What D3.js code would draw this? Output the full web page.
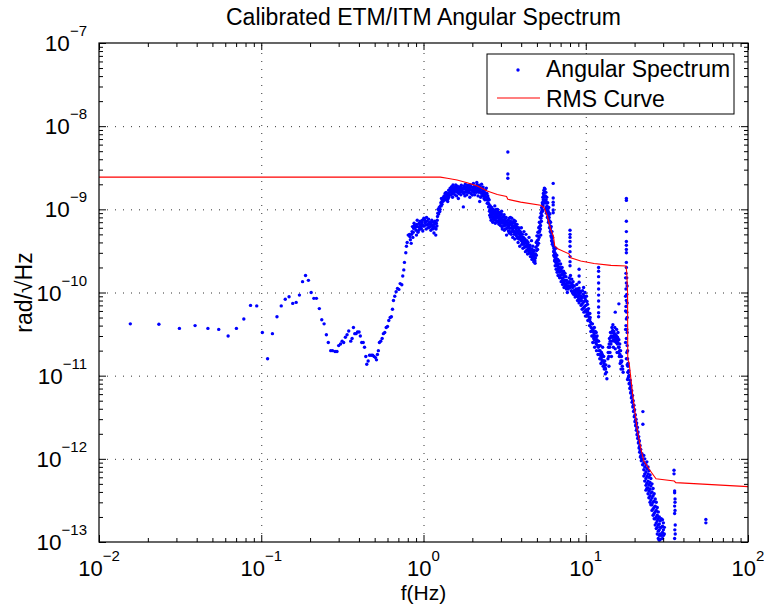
<!DOCTYPE html>
<html>
<head>
<meta charset="utf-8">
<script src="https://cdn.jsdelivr.net/npm/d3@7"></script>
<style>
  body { margin: 0; background: #fff; }
  svg text { font-family: "Liberation Sans", Arial, Helvetica, sans-serif; fill: #000; }
</style>
</head>
<body>
<svg id="chart"></svg>
<script>
// ---- data ----
const xDecades = [1e-2, 1e-1, 1, 10, 100];
const yDecades = [1e-13, 1e-12, 1e-11, 1e-10, 1e-9, 1e-8, 1e-7];

// RMS curve [Hz, rad/rtHz]
const rmsCurve = [
  [0.01, 2.44e-9], [1.27, 2.44e-9], [1.40, 2.36e-9], [1.61, 2.25e-9], [1.86, 2.09e-9],
  [2.15, 1.91e-9], [2.47, 1.66e-9], [2.85, 1.51e-9], [3.25, 1.43e-9], [3.31, 1.32e-9],
  [3.97, 1.22e-9], [5.27, 1.12e-9], [5.53, 1.05e-9], [5.80, 8.3e-10], [6.08, 5.75e-10],
  [6.32, 4.77e-10], [6.44, 3.62e-10], [6.72, 3.35e-10], [7.88, 2.92e-10], [8.08, 2.61e-10],
  [9.31, 2.39e-10], [11.25, 2.23e-10], [14.3, 2.12e-10], [17.7, 2.08e-10], [17.9, 1.73e-10],
  [18.1, 1.0e-10], [18.15, 1.57e-11], [18.5, 1.43e-11], [19.4, 6.25e-12], [20.8, 2.2e-12],
  [21.9, 1.3e-12], [22.8, 9.4e-13], [24.6, 7.5e-13], [27.1, 5.75e-13], [35.1, 5.41e-13],
  [35.9, 5.18e-13], [100, 4.63e-13]
];

// angular spectrum, low frequencies (sparse points)
const specLow = [
  [0.0156,4.2e-11],[0.0234,4.15e-11],[0.0313,3.7e-11],[0.0391,4.0e-11],[0.0469,3.7e-11],
  [0.0547,3.6e-11],[0.0625,3.0e-11],[0.0703,3.7e-11],[0.0781,4.8e-11],[0.0859,7.0e-11],
  [0.0938,6.9e-11],[0.1016,3.3e-11],[0.1094,1.6e-11],[0.1172,3.2e-11],[0.125,5.1e-11],
  [0.1328,6.9e-11],[0.1406,8.3e-11],[0.1484,8.9e-11],[0.1563,7.4e-11],[0.1641,7.6e-11],
  [0.1719,9.3e-11],[0.1797,1.35e-10],[0.1875,1.6e-10],[0.1953,1.4e-10],[0.2031,1.0e-10],
  [0.2109,8.5e-11],[0.2188,8.5e-11],[0.228,6.4e-11],[0.236,4.7e-11],[0.244,4.2e-11],
  [0.252,3.1e-11],[0.259,2.5e-11],[0.268,2.0e-11],[0.275,2.0e-11],[0.285,1.95e-11],
  [0.293,1.95e-11],[0.300,2.3e-11],[0.308,2.4e-11],[0.315,2.6e-11],[0.322,2.5e-11],
  [0.330,2.9e-11],[0.338,3.1e-11],[0.346,3.45e-11],[0.356,2.6e-11],[0.363,2.8e-11],
  [0.370,3.8e-11],[0.377,3.2e-11],[0.384,3.2e-11],[0.392,3.35e-11],[0.401,3.35e-11],
  [0.408,3.0e-11],[0.416,2.5e-11],[0.425,2.5e-11],[0.433,2.2e-11],[0.441,1.7e-11],
  [0.447,1.37e-11],[0.456,1.5e-11],[0.465,1.76e-11],[0.476,1.76e-11],[0.486,1.76e-11],
  [0.496,1.7e-11],[0.506,1.65e-11],[0.513,1.55e-11],[0.520,1.8e-11],[0.527,2.0e-11],
  [0.535,2.5e-11],[0.545,2.6e-11],[0.556,2.8e-11],[0.566,3.2e-11],[0.577,3.3e-11],
  [0.589,3.8e-11],[0.600,3.9e-11],[0.611,4.6e-11],[0.623,5.0e-11],[0.634,5.1e-11],
  [0.644,6.3e-11],[0.653,8.0e-11],[0.665,9.0e-11],[0.678,1.02e-10],[0.691,1.12e-10],
  [0.705,1.09e-10],[0.718,1.28e-10],[0.735,1.24e-10],[0.745,1.58e-10],[0.756,1.87e-10],
  [0.763,2.3e-10],[0.778,3.0e-10],[0.785,3.6e-10],[0.793,4.0e-10],[0.805,4.9e-10]
];

// angular spectrum, 0.8 - 6.3 Hz (dense cloud)
const specMid = [
  [0.823,4.7e-10],[0.84,3.9e-10],[0.82,5.0e-10],[0.855,6.2e-10],[0.85,5.4e-10],[0.86,4.6e-10],
  [0.87,5.9e-10],[0.88,6.4e-10],[0.888,6.0e-10],[0.9,5.6e-10],[0.905,4.9e-10],[0.915,7.4e-10],
  [0.92,6.2e-10],[0.936,5.6e-10],[0.94,6.8e-10],[0.95,6.5e-10],[0.96,6.0e-10],[0.97,5.85e-10],
  [0.975,7.0e-10],[0.98,6.6e-10],[0.99,5.5e-10],[1.005,7.8e-10],[1.01,6.3e-10],[1.02,6.9e-10],
  [1.029,7.1e-10],[1.04,5.8e-10],[1.044,8.0e-10],[1.05,7.2e-10],[1.063,6.6e-10],[1.07,6.0e-10],
  [1.084,6.1e-10],[1.09,7.0e-10],[1.105,6.6e-10],[1.11,5.6e-10],[1.125,7.4e-10],[1.13,6.4e-10],
  [1.148,5.85e-10],[1.15,7.0e-10],[1.16,5.2e-10],[1.17,6.6e-10],[1.18,6.0e-10],[1.19,4.9e-10],
  [1.2,6.8e-10],[1.215,7.4e-10],[1.22,8.2e-10],[1.23,1.0e-9],[1.24,8.8e-10],[1.25,1.05e-9],
  [1.26,9.4e-10],[1.27,1.1e-9],
  [0.83,4.3e-10],[0.845,5.0e-10],[0.865,5.3e-10],[0.875,6.8e-10],[0.895,6.2e-10],[0.91,6.6e-10],
  [0.925,5.3e-10],[0.945,6.0e-10],[0.955,7.2e-10],[0.965,6.4e-10],[0.985,7.4e-10],[0.995,6.3e-10],
  [1.015,7.5e-10],[1.035,6.5e-10],[1.055,6.5e-10],[1.075,7.6e-10],[1.095,6.2e-10],[1.115,6.9e-10],
  [1.135,5.9e-10],[1.155,6.2e-10],[1.175,7.2e-10],[1.195,5.8e-10],[1.21,6.3e-10],[1.225,9.0e-10],
  [1.245,9.8e-10],[1.265,1.0e-9],
  [1.28,1.2e-9],[1.29,1.35e-9],[1.3,1.15e-9],[1.31,1.29e-9],[1.32,1.25e-9],[1.33,1.4e-9],
  [1.34,1.45e-9],[1.35,1.3e-9],[1.36,1.56e-9],[1.37,1.4e-9],[1.38,1.6e-9],[1.39,1.29e-9],
  [1.4,1.5e-9],[1.41,1.24e-9],[1.42,1.35e-9],[1.43,1.7e-9],[1.44,1.49e-9],[1.45,1.6e-9],
  [1.46,1.8e-9],[1.47,1.62e-9],[1.48,1.5e-9],[1.49,1.87e-9],[1.5,1.7e-9],[1.51,1.4e-9],
  [1.52,1.96e-9],[1.53,1.8e-9],[1.54,1.6e-9],[1.55,1.71e-9],[1.56,1.5e-9],[1.57,1.85e-9],
  [1.58,1.96e-9],[1.59,1.65e-9],[1.6,1.45e-9],[1.61,1.78e-9],[1.62,1.9e-9],[1.63,1.7e-9],
  [1.64,1.35e-9],[1.65,1.55e-9],[1.66,1.8e-9],[1.67,1.6e-9],[1.69,1.87e-9],[1.7,1.5e-9],
  [1.71,1.95e-9],[1.72,1.65e-9],[1.73,1.71e-9],[1.75,1.8e-9],[1.76,1.07e-9],[1.77,1.55e-9],
  [1.78,1.9e-9],[1.79,1.78e-9],[1.8,1.45e-9],[1.81,2.0e-9],[1.82,1.62e-9],[1.84,1.7e-9],
  [1.85,1.5e-9],[1.86,1.87e-9],[1.88,1.95e-9],[1.89,1.6e-9],[1.9,1.71e-9],[1.92,1.8e-9],
  [1.93,1.4e-9],[1.95,1.96e-9],[1.96,1.7e-9],[1.98,1.85e-9],[2.0,1.49e-9],[2.02,1.65e-9],
  [2.03,2.05e-9],[2.04,1.87e-9],[2.06,1.75e-9],[2.07,1.5e-9],[2.09,1.71e-9],[2.1,1.9e-9],
  [2.12,1.6e-9],[2.13,2.1e-9],[2.14,1.96e-9],[2.16,1.8e-9],[2.17,1.45e-9],[2.19,1.78e-9],
  [2.2,1.95e-9],[2.21,1.65e-9],[2.22,1.24e-9],[2.24,1.85e-9],[2.25,1.4e-9],[2.27,1.56e-9],
  [2.28,2.0e-9],[2.3,1.6e-9],[2.31,1.78e-9],[2.33,1.85e-9],[2.34,1.5e-9],[2.36,1.35e-9],
  [2.38,1.7e-9],[2.39,1.3e-9],[2.41,1.71e-9],[2.42,1.55e-9],[2.44,1.8e-9],[2.45,1.3e-9],
  [2.47,1.18e-9],[2.49,1.45e-9],[2.5,1.2e-9],[2.52,1.07e-9],[2.54,1.3e-9],[2.55,9.5e-10],
  [2.56,8.5e-10],[2.58,1.1e-9],
  [1.285,1.1e-9],[1.305,1.25e-9],[1.33,1.3e-9],[1.355,1.38e-9],[1.375,1.52e-9],[1.395,1.4e-9],
  [1.415,1.55e-9],[1.435,1.42e-9],[1.455,1.7e-9],[1.475,1.75e-9],[1.495,1.6e-9],[1.515,1.55e-9],
  [1.535,1.65e-9],[1.555,1.85e-9],[1.575,1.7e-9],[1.595,1.8e-9],[1.615,1.6e-9],[1.635,1.8e-9],
  [1.655,1.7e-9],[1.68,1.75e-9],[1.7,1.65e-9],[1.725,1.8e-9],[1.745,1.6e-9],[1.765,1.75e-9],
  [1.79,1.6e-9],[1.815,1.75e-9],[1.835,1.85e-9],[1.86,1.65e-9],[1.885,1.75e-9],[1.91,1.6e-9],
  [1.935,1.85e-9],[1.96,1.55e-9],[1.99,1.7e-9],[2.015,1.8e-9],[2.045,1.6e-9],[2.075,1.85e-9],
  [2.105,1.7e-9],[2.135,1.75e-9],[2.165,1.65e-9],[2.195,1.6e-9],[2.23,1.7e-9],[2.26,1.75e-9],
  [2.29,1.45e-9],[2.32,1.65e-9],[2.35,1.6e-9],[2.37,1.45e-9],[2.4,1.5e-9],[2.43,1.4e-9],
  [2.46,1.55e-9],[2.48,1.3e-9],[2.51,1.35e-9],[2.53,1.15e-9],
  [2.6,9.0e-10],[2.61,7.4e-10],[2.63,1.05e-9],[2.65,8.0e-10],[2.66,9.0e-10],[2.68,1.0e-9],
  [2.7,7.6e-10],[2.71,9.8e-10],[2.73,8.8e-10],[2.75,1.1e-9],[2.77,6.8e-10],[2.78,7.8e-10],
  [2.8,9.2e-10],[2.82,8.1e-10],[2.84,7.2e-10],[2.86,1.0e-9],[2.87,9.4e-10],[2.9,8.4e-10],
  [2.92,6.6e-10],[2.93,7.4e-10],[2.95,9.0e-10],[2.97,7.8e-10],[2.99,8.5e-10],[3.01,6.9e-10],
  [3.03,9.5e-10],[3.04,6.2e-10],[3.07,8.0e-10],[3.1,7.4e-10],[3.12,6.3e-10],[3.14,8.6e-10],
  [3.16,6.8e-10],[3.18,7.4e-10],[3.2,5.8e-10],[3.23,8.0e-10],[3.25,4.9e-10],[3.28,7.0e-10],
  [3.31,6.2e-10],[3.34,5.5e-10],[3.36,6.8e-10],[3.38,7.8e-10],[3.4,5.9e-10],[3.43,8.0e-10],
  [3.45,6.8e-10],
  [2.57,1.0e-9],[2.59,8.0e-10],[2.62,9.5e-10],[2.64,8.6e-10],[2.67,7.0e-10],[2.69,9.2e-10],
  [2.72,8.2e-10],[2.74,9.6e-10],[2.76,7.4e-10],[2.79,8.6e-10],[2.81,1.0e-9],[2.83,7.8e-10],
  [2.85,8.8e-10],[2.88,7.0e-10],[2.89,8.0e-10],[2.91,9.2e-10],[2.94,7.1e-10],[2.96,8.4e-10],
  [2.98,6.4e-10],[3.0,7.6e-10],[3.02,8.8e-10],[3.05,7.2e-10],[3.06,5.8e-10],[3.08,6.8e-10],
  [3.11,8.2e-10],[3.13,7.0e-10],[3.15,5.6e-10],[3.17,6.4e-10],[3.19,7.8e-10],[3.21,6.6e-10],
  [3.24,7.2e-10],[3.26,5.9e-10],[3.29,6.5e-10],[3.32,7.4e-10],[3.35,6.1e-10],[3.37,5.2e-10],
  [3.39,6.5e-10],[3.42,5.4e-10],[3.44,7.2e-10],
  [3.47,5.0e-10],[3.5,7.8e-10],[3.52,6.4e-10],[3.53,5.9e-10],[3.55,4.6e-10],[3.57,7.0e-10],
  [3.6,5.4e-10],[3.61,7.4e-10],[3.63,6.2e-10],[3.65,4.4e-10],[3.68,7.2e-10],[3.7,6.5e-10],
  [3.72,5.8e-10],[3.74,4.8e-10],[3.77,6.6e-10],[3.79,4.5e-10],[3.8,5.2e-10],[3.83,4.0e-10],
  [3.86,6.0e-10],[3.88,5.6e-10],[3.9,4.7e-10],[3.92,3.6e-10],[3.95,5.4e-10],[3.98,4.3e-10],
  [4.01,6.0e-10],[4.04,3.8e-10],[4.07,5.0e-10],[4.1,3.4e-10],[4.13,4.6e-10],[4.16,5.4e-10],
  [4.19,3.9e-10],[4.22,4.4e-10],[4.25,3.1e-10],[4.28,5.0e-10],[4.31,3.6e-10],[4.34,4.2e-10],
  [4.38,2.9e-10],[4.41,4.0e-10],[4.44,3.4e-10],[4.47,4.6e-10],[4.5,3.0e-10],[4.53,3.7e-10],
  [4.56,2.7e-10],[4.6,3.3e-10],[4.63,4.2e-10],[4.66,2.5e-10],[4.69,3.0e-10],[4.72,3.6e-10],
  [4.75,2.8e-10],[4.78,2.35e-10],[4.81,3.2e-10],[4.84,2.6e-10],[4.87,2.25e-10],[4.9,2.9e-10],
  [3.49,6.0e-10],[3.51,5.4e-10],[3.54,6.8e-10],[3.56,5.6e-10],[3.59,6.2e-10],[3.62,5.0e-10],
  [3.64,6.8e-10],[3.67,5.4e-10],[3.69,6.0e-10],[3.71,5.0e-10],[3.73,6.2e-10],[3.76,5.5e-10],
  [3.78,6.0e-10],[3.81,4.6e-10],[3.84,5.4e-10],[3.87,4.4e-10],[3.89,5.0e-10],[3.93,4.6e-10],
  [3.96,4.9e-10],[3.99,5.2e-10],[4.02,4.2e-10],[4.05,4.6e-10],[4.08,4.0e-10],[4.11,4.3e-10],
  [4.14,3.8e-10],[4.17,4.2e-10],[4.2,3.5e-10],[4.23,4.0e-10],[4.26,3.6e-10],[4.29,4.1e-10],
  [4.32,3.2e-10],[4.36,3.8e-10],[4.39,3.3e-10],[4.42,3.7e-10],[4.46,3.1e-10],[4.49,3.5e-10],
  [4.52,3.2e-10],[4.55,3.4e-10],[4.58,2.9e-10],[4.62,3.0e-10],[4.65,2.7e-10],[4.68,3.3e-10],
  [4.71,2.6e-10],[4.74,3.1e-10],[4.77,2.7e-10],[4.8,2.5e-10],[4.83,2.9e-10],[4.86,2.4e-10],
  [4.89,2.6e-10],
  [4.95,4.0e-10],[4.98,3.2e-10],[5.0,4.8e-10],[5.04,3.7e-10],[5.07,5.3e-10],[5.1,4.3e-10],
  [5.13,6.0e-10],[5.16,4.6e-10],[5.18,7.0e-10],[5.2,5.5e-10],[5.23,8.0e-10],[5.26,6.4e-10],
  [5.28,4.9e-10],[5.3,9.0e-10],[5.33,7.2e-10],[5.35,1.05e-9],[5.37,8.4e-10],[5.4,1.2e-9],
  [5.42,9.5e-10],[5.44,1.4e-9],[5.46,1.1e-9],[5.48,1.55e-9],[5.5,1.25e-9],[5.52,1.7e-9],
  [5.54,1.4e-9],[5.56,1.8e-9],[5.58,1.6e-9],[5.6,1.2e-9],[5.62,1.75e-9],[5.64,1.45e-9],
  [5.66,1.0e-9],[5.68,1.6e-9],[5.7,1.3e-9],[5.72,9.0e-10],[5.75,1.4e-9],[5.77,1.1e-9],
  [5.8,8.0e-10],[5.83,1.2e-9],[5.86,9.5e-10],[5.89,7.0e-10],[5.92,1.05e-9],[5.95,8.0e-10],
  [5.98,6.0e-10],[6.01,8.8e-10],[6.04,5.4e-10],[6.07,7.0e-10],[6.1,4.8e-10],[6.13,6.2e-10],
  [6.16,4.2e-10],[6.19,5.4e-10],[6.22,3.8e-10],[6.25,4.6e-10],
  [4.93,3.5e-10],[4.96,2.8e-10],[5.02,4.2e-10],[5.05,3.3e-10],[5.09,4.8e-10],[5.12,3.9e-10],
  [5.15,5.3e-10],[5.19,6.2e-10],[5.22,6.9e-10],[5.25,5.8e-10],[5.29,7.8e-10],[5.32,8.4e-10],
  [5.36,9.5e-10],[5.39,1.0e-9],[5.43,1.15e-9],[5.47,1.3e-9],[5.51,1.45e-9],[5.55,1.6e-9],
  [5.59,1.45e-9],[5.63,1.3e-9],[5.67,1.2e-9],[5.71,1.05e-9],[5.74,1.2e-9],[5.78,9.5e-10],
  [5.82,1.0e-9],[5.85,8.2e-10],[5.88,8.6e-10],[5.91,7.5e-10],[5.94,9.0e-10],[5.97,6.8e-10],
  [6.0,7.2e-10],[6.03,6.3e-10],[6.06,5.9e-10],[6.09,5.5e-10],[6.12,5.2e-10],[6.15,4.6e-10],
  [6.18,4.8e-10],[6.21,4.2e-10],[6.24,4.0e-10]
];

// angular spectrum, 6.3 - 31 Hz (dense cloud)
const specHigh = [
  [6.33,3.6e-10],[6.36,2.8e-10],[6.39,3.2e-10],[6.42,2.4e-10],[6.45,3.0e-10],[6.48,2.1e-10],
  [6.51,2.6e-10],[6.54,3.4e-10],[6.57,1.9e-10],[6.6,2.3e-10],[6.63,2.8e-10],[6.66,1.75e-10],
  [6.69,2.1e-10],[6.72,2.5e-10],[6.75,1.6e-10],[6.8,2.0e-10],[6.85,2.4e-10],[6.9,1.5e-10],
  [6.95,1.8e-10],[7.0,2.2e-10],[7.05,1.35e-10],[7.1,1.65e-10],[7.15,2.0e-10],[7.2,1.25e-10],
  [7.25,1.5e-10],[7.3,1.8e-10],[7.35,1.15e-10],[7.4,1.4e-10],[7.45,1.7e-10],[7.5,1.2e-10],
  [7.55,1.55e-10],[7.6,1.1e-10],[7.65,1.3e-10],[7.7,1.0e-10],[7.75,1.2e-10],
  [6.34,3.1e-10],[6.37,3.4e-10],[6.4,2.7e-10],[6.43,2.9e-10],[6.46,2.5e-10],[6.5,2.9e-10],
  [6.53,2.3e-10],[6.56,2.6e-10],[6.59,2.1e-10],[6.62,2.5e-10],[6.65,2.2e-10],[6.68,2.4e-10],
  [6.71,1.9e-10],[6.74,2.2e-10],[6.78,1.8e-10],[6.82,2.2e-10],[6.87,1.75e-10],[6.92,2.0e-10],
  [6.97,1.6e-10],[7.02,1.9e-10],[7.07,1.5e-10],[7.12,1.8e-10],[7.17,1.4e-10],[7.22,1.7e-10],
  [7.27,1.35e-10],[7.32,1.6e-10],[7.37,1.3e-10],[7.42,1.55e-10],[7.47,1.25e-10],[7.52,1.4e-10],
  [7.57,1.2e-10],[7.62,1.4e-10],[7.67,1.15e-10],[7.72,1.3e-10],[7.8,1.1e-10],[7.85,1.3e-10],
  [7.9,1.5e-10],[7.95,1.2e-10],[8.05,1.6e-10],[8.1,1.3e-10],[8.15,1.05e-10],[8.2,1.45e-10],
  [8.3,1.15e-10],[8.35,1.35e-10],[8.4,9.5e-11],[8.5,1.2e-10],[8.55,1.05e-10],[8.6,8.8e-11],
  [8.7,1.1e-10],[8.75,9.0e-11],[8.8,1.25e-10],[8.9,8.0e-11],[8.95,1.0e-10],[9.05,8.5e-11],
  [9.1,7.5e-11],[9.15,1.05e-10],[9.3,9.0e-11],[9.35,7.0e-11],[9.4,8.0e-11],[9.5,6.3e-11],
  [9.55,1.05e-10],[9.6,7.5e-11],[9.7,1.15e-10],[9.75,5.8e-11],[9.8,9.0e-11],[9.85,6.8e-11],
  [9.9,1.0e-10],[9.95,5.2e-11],[10.0,8.0e-11],[10.05,6.2e-11],[10.1,9.0e-11],[10.2,5.4e-11],
  [10.25,7.2e-11],[10.3,4.6e-11],[10.4,6.4e-11],[10.5,5.0e-11],[10.55,4.0e-11],[10.6,5.6e-11],
  [10.7,4.4e-11],
  [7.92,1.35e-10],[8.0,1.15e-10],[8.08,1.45e-10],[8.12,1.2e-10],[8.25,1.25e-10],[8.28,1.0e-10],
  [8.38,1.2e-10],[8.45,1.05e-10],[8.52,9.5e-11],[8.62,1.0e-10],[8.68,9.5e-11],[8.78,1.05e-10],
  [8.85,9.0e-11],[8.92,1.1e-10],[9.0,9.0e-11],[9.08,9.5e-11],[9.22,8.0e-11],[9.28,1.0e-10],
  [9.38,8.5e-11],[9.45,7.2e-11],[9.52,8.8e-11],[9.62,9.5e-11],[9.68,6.5e-11],[9.78,7.8e-11],
  [9.88,8.5e-11],[9.92,6.0e-11],[10.02,7.0e-11],[10.12,5.8e-11],[10.18,7.8e-11],[10.28,6.0e-11],
  [10.35,5.2e-11],[10.45,5.6e-11],[10.58,4.7e-11],[10.65,5.0e-11],
  [10.8,3.8e-11],[10.9,3.0e-11],[11.0,4.2e-11],[11.05,2.5e-11],[11.1,3.4e-11],[11.2,2.8e-11],
  [11.3,3.8e-11],[11.35,2.2e-11],[11.4,3.0e-11],[11.5,2.5e-11],[11.6,3.3e-11],[11.65,2.0e-11],
  [11.7,2.7e-11],[11.8,2.3e-11],[11.9,1.8e-11],[12.0,2.6e-11],[12.1,2.0e-11],[12.2,1.6e-11],
  [12.3,2.3e-11],[12.4,1.4e-11],[12.5,1.9e-11],[12.6,1.5e-11],[12.7,2.2e-11],[12.8,1.3e-11],
  [12.9,1.7e-11],[13.0,1.2e-11],[13.1,1.5e-11],[13.2,1.05e-11],[13.3,1.35e-11],[13.5,9.2e-12],
  [10.75,3.4e-11],[10.85,4.2e-11],[10.95,3.5e-11],[11.08,3.0e-11],[11.15,3.7e-11],[11.25,3.2e-11],
  [11.32,2.7e-11],[11.45,3.4e-11],[11.55,2.9e-11],[11.62,2.4e-11],[11.75,3.0e-11],[11.85,2.6e-11],
  [11.95,2.2e-11],[12.05,2.3e-11],[12.15,1.8e-11],[12.25,2.0e-11],[12.35,1.75e-11],[12.45,1.6e-11],
  [12.55,1.7e-11],[12.65,1.8e-11],[12.75,1.5e-11],[12.85,1.5e-11],[12.95,1.4e-11],[13.05,1.35e-11],
  [13.15,1.25e-11],[13.25,1.2e-11],[13.4,1.1e-11],
  [13.7,1.6e-11],[13.8,2.2e-11],[13.9,1.3e-11],[14.0,2.8e-11],[14.1,1.9e-11],[14.2,3.3e-11],
  [14.3,2.4e-11],[14.4,1.7e-11],[14.5,3.8e-11],[14.6,2.9e-11],[14.7,4.1e-11],[14.8,2.2e-11],
  [14.9,3.4e-11],[15.0,2.6e-11],[15.1,3.8e-11],[15.2,2.1e-11],[15.3,3.1e-11],[15.4,2.5e-11],
  [15.5,3.6e-11],[15.6,1.9e-11],[15.7,2.9e-11],[15.8,3.3e-11],[15.9,2.2e-11],[16.0,2.7e-11],
  [16.1,1.7e-11],[16.2,2.4e-11],[16.3,1.4e-11],[16.4,2.0e-11],[16.5,1.2e-11],[16.6,1.7e-11],
  [16.8,1.3e-11],[17.0,1.1e-11],
  [13.75,1.9e-11],[13.85,1.7e-11],[13.95,2.4e-11],[14.05,2.2e-11],[14.15,2.6e-11],[14.25,2.9e-11],
  [14.35,3.0e-11],[14.45,2.6e-11],[14.55,3.3e-11],[14.65,3.5e-11],[14.75,3.0e-11],[14.85,2.7e-11],
  [14.95,3.0e-11],[15.05,3.2e-11],[15.15,2.9e-11],[15.25,2.6e-11],[15.35,2.8e-11],[15.45,3.0e-11],
  [15.55,2.7e-11],[15.65,2.4e-11],[15.75,2.5e-11],[15.85,2.7e-11],[15.95,1.9e-11],[16.05,2.2e-11],
  [16.15,2.0e-11],[16.25,1.8e-11],[16.35,1.7e-11],[16.45,1.5e-11],[16.55,1.45e-11],[16.7,1.5e-11],
  [16.9,1.2e-11],
  [18.2,1.3e-11],[18.3,9.5e-12],[18.4,1.15e-11],[18.5,8.0e-12],[18.6,1.0e-11],[18.7,7.0e-12],
  [18.8,8.8e-12],[18.9,6.2e-12],[19.0,7.6e-12],[19.1,5.4e-12],[19.2,6.6e-12],[19.3,4.8e-12],
  [19.4,5.8e-12],[19.5,4.2e-12],[19.6,5.0e-12],[19.7,3.7e-12],[19.8,4.4e-12],[19.9,3.2e-12],
  [20.0,3.9e-12],[20.1,2.8e-12],[20.2,3.4e-12],[20.3,2.5e-12],[20.4,3.0e-12],[20.5,2.2e-12],
  [20.6,2.7e-12],[20.7,1.95e-12],[20.8,2.4e-12],[20.9,1.75e-12],[21.0,2.1e-12],[21.1,1.55e-12],
  [21.2,1.85e-12],[21.3,1.35e-12],[21.4,1.65e-12],[21.5,1.2e-12],[21.6,1.45e-12],[21.7,1.05e-12],
  [21.8,1.3e-12],[22.0,9.5e-13],[22.2,1.15e-12],
  [18.25,1.1e-11],[18.45,1.0e-11],[18.65,8.2e-12],[18.85,7.2e-12],[19.05,6.4e-12],[19.25,5.6e-12],
  [19.45,5.0e-12],[19.65,4.4e-12],[19.85,3.8e-12],[20.05,3.3e-12],[20.25,2.9e-12],[20.45,2.6e-12],
  [20.65,2.3e-12],[20.85,2.0e-12],[21.05,1.8e-12],[21.25,1.6e-12],[21.45,1.4e-12],[21.65,1.25e-12],
  [21.9,1.1e-12],[22.1,1.0e-12],[22.4,8.5e-13],[22.6,1.0e-12],
  [22.8,1.1e-12],[22.8,9.0e-13],[22.8,7.4e-13],[22.8,6.2e-13],
  [23.1,1.0e-12],[23.1,8.0e-13],[23.1,6.6e-13],[23.1,5.4e-13],
  [23.5,8.5e-13],[23.5,7.0e-13],[23.5,5.8e-13],[23.5,4.8e-13],[23.5,4.2e-13],
  [23.8,9.2e-13],[23.8,7.6e-13],[23.8,6.2e-13],[23.8,5.1e-13],[23.8,4.4e-13],
  [24.2,8.0e-13],[24.2,6.6e-13],[24.2,5.4e-13],[24.2,4.5e-13],[24.2,3.8e-13],
  [24.5,7.2e-13],[24.5,6.0e-13],[24.5,4.9e-13],[24.5,4.1e-13],[24.5,3.4e-13],
  [24.9,6.4e-13],[24.9,5.2e-13],[24.9,4.3e-13],[24.9,3.6e-13],[24.9,3.0e-13],
  [25.2,5.8e-13],[25.2,4.7e-13],[25.2,3.9e-13],[25.2,3.2e-13],[25.2,2.8e-13],
  [25.6,5.0e-13],[25.6,4.0e-13],[25.6,3.4e-13],[25.6,2.8e-13],[25.6,2.4e-13],
  [26.0,4.4e-13],[26.0,3.6e-13],[26.0,3.0e-13],[26.0,2.5e-13],[26.0,2.1e-13],
  [26.4,3.8e-13],[26.4,3.1e-13],[26.4,2.6e-13],[26.4,2.2e-13],[26.4,1.9e-13],
  [26.8,3.3e-13],[26.8,2.7e-13],[26.8,2.3e-13],[26.8,1.9e-13],[26.8,1.6e-13],
  [27.2,3.0e-13],[27.2,2.4e-13],[27.2,2.0e-13],[27.2,1.7e-13],[27.2,1.45e-13],
  [27.6,2.6e-13],[27.6,2.1e-13],[27.6,1.8e-13],[27.6,1.5e-13],[27.6,1.25e-13],
  [28.0,2.3e-13],[28.0,1.9e-13],[28.0,1.6e-13],[28.0,1.35e-13],[28.0,1.1e-13],
  [28.4,2.0e-13],[28.4,1.65e-13],[28.4,1.4e-13],[28.4,1.2e-13],[28.4,1.05e-13],
  [28.8,1.8e-13],[28.8,1.5e-13],[28.8,1.25e-13],[28.8,1.08e-13],
  [29.2,1.9e-13],[29.2,1.5e-13],[29.2,1.2e-13],
  [29.7,1.85e-13],[29.7,1.55e-13],[29.7,1.3e-13],[29.7,1.1e-13],
  [30.1,1.7e-13],[30.1,1.4e-13],[30.1,1.2e-13],[30.5,1.5e-13],[30.5,1.25e-13]
];

// narrow lines and outliers standing out of the cloud
const specLines = [
  [3.31,4.9e-9],[3.31,2.66e-9],[3.31,2.36e-9],
  [6.3,2.05e-9],[6.3,1.37e-9],[6.3,1.22e-9],[6.3,1.13e-9],[6.3,9.8e-10],[6.3,9.1e-10],
  [8.0,5.6e-10],[8.0,5.0e-10],[8.0,4.6e-10],[8.0,4.1e-10],[8.0,3.6e-10],[8.0,3.1e-10],
  [8.0,2.7e-10],[8.0,2.35e-10],[8.0,2.1e-10],
  [9.1,1.9e-10],[9.1,1.58e-10],[9.1,1.33e-10],[9.1,1.13e-10],[9.1,9.7e-11],[9.1,8.1e-11],
  [12.0,2.0e-10],[12.0,1.8e-10],[12.0,1.55e-10],[12.0,1.3e-10],[12.0,1.1e-10],[12.0,9.3e-11],
  [12.0,7.9e-11],[12.0,6.7e-11],[12.0,5.7e-11],[12.0,5.1e-11],
  [15.2,5.8e-11],[16.0,7.3e-11],
  [17.8,1.35e-9],[17.8,1.28e-9],[17.8,7.2e-10],[17.8,5.4e-10],[17.8,4.1e-10],[17.8,3.7e-10],
  [17.8,3.3e-10],[17.8,3.0e-10],[17.8,2.3e-10],[17.8,2.0e-10],[17.7,1.7e-10],[17.9,1.5e-10],
  [17.8,1.3e-10],[17.7,1.1e-10],[17.9,9.5e-11],[17.8,8.0e-11],[17.7,6.8e-11],[17.9,5.8e-11],
  [17.8,4.8e-11],[17.7,4.0e-11],[18.0,3.3e-11],[17.8,2.8e-11],[18.0,2.3e-11],[17.9,1.9e-11],
  [18.1,1.6e-11],[18.0,1.35e-11],[18.2,1.1e-11],[18.1,9.0e-12],
  [17.6,1.5e-10],[18.0,1.2e-10],[17.6,9.0e-11],[18.0,7.5e-11],[17.6,6.0e-11],[18.0,5.0e-11],
  [17.6,3.6e-11],[17.9,3.6e-11],[17.6,2.5e-11],[18.1,2.0e-11],[17.8,1.6e-11],[18.2,1.4e-11],
  [22.5,3.7e-12],[22.5,2.6e-12],
  [35.0,7.3e-13],[35.0,6.6e-13],[35.3,4.1e-13],[35.3,3.9e-13],[35.5,3.3e-13],[35.5,3.0e-13],
  [35.3,2.7e-13],[35.5,2.4e-13],[35.3,2.2e-13],[35.6,1.6e-13],[35.4,1.4e-13],[35.6,1.25e-13],
  [35.3,1.1e-13],
  [55,1.87e-13],[55,1.7e-13]
];

// ---- chart ----
const W = 764, H = 605;
const margin = { top: 43, right: 16, bottom: 63, left: 99 };
const width = W - margin.left - margin.right;
const height = H - margin.top - margin.bottom;

const svg = d3.select('#chart')
    .attr('width', W)
    .attr('height', H);

svg.append('rect').attr('width', W).attr('height', H).attr('fill', '#fff');

const g = svg.append('g')
    .attr('transform', `translate(${margin.left},${margin.top})`);

const x = d3.scaleLog().domain([1e-2, 1e2]).range([0, width]);
const y = d3.scaleLog().domain([1e-13, 1e-7]).range([height, 0]);

// dotted grid at the decades
g.append('g')
    .attr('transform', `translate(0,${height})`)
    .call(d3.axisBottom(x).tickValues(xDecades.slice(1, -1)).tickSize(-height).tickFormat(''))
    .call(s => s.select('.domain').remove())
    .selectAll('line')
    .attr('stroke', '#333')
    .attr('stroke-dasharray', '1,7');

g.append('g')
    .call(d3.axisLeft(y).tickValues(yDecades.slice(1, -1)).tickSize(-width).tickFormat(''))
    .call(s => s.select('.domain').remove())
    .selectAll('line')
    .attr('stroke', '#333')
    .attr('stroke-dasharray', '1,7');

// clip to the axes box
svg.append('defs').append('clipPath').attr('id', 'plot-clip')
    .append('rect').attr('width', width).attr('height', height);

const plot = g.append('g').attr('clip-path', 'url(#plot-clip)');

const allSpec = specLow.concat(specMid, specHigh, specLines);

plot.selectAll('.dot')
    .data(allSpec)
    .enter().append('circle')
    .attr('class', 'dot')
    .attr('cx', d => x(d[0]))
    .attr('cy', d => y(d[1]))
    .attr('r', 1.7)
    .attr('fill', '#0000ff');

const line = d3.line()
    .x(d => x(d[0]))
    .y(d => y(d[1]));

plot.append('path')
    .datum(rmsCurve)
    .attr('d', line)
    .attr('fill', 'none')
    .attr('stroke', '#ff0000')
    .attr('stroke-width', 1.1);

// ticks, inside, on all four sides
const xMinor = x.ticks().filter(t => !xDecades.some(d => Math.abs(d - t) / d < 1e-6));
const yMinor = y.ticks().filter(t => !yDecades.some(d => Math.abs(d - t) / d < 1e-6));

function tickSet(axis, translate, values, size) {
    g.append('g')
        .attr('transform', translate)
        .call(axis.tickValues(values).tickSize(size).tickFormat(''))
        .call(s => s.select('.domain').remove())
        .selectAll('line')
        .attr('stroke', '#000');
}

tickSet(d3.axisBottom(x), `translate(0,${height})`, xDecades, -7);
tickSet(d3.axisBottom(x), `translate(0,${height})`, xMinor, -4);
tickSet(d3.axisTop(x), 'translate(0,0)', xDecades, -7);
tickSet(d3.axisTop(x), 'translate(0,0)', xMinor, -4);
tickSet(d3.axisLeft(y), 'translate(0,0)', yDecades, -7);
tickSet(d3.axisLeft(y), 'translate(0,0)', yMinor, -4);
tickSet(d3.axisRight(y), `translate(${width},0)`, yDecades, -7);
tickSet(d3.axisRight(y), `translate(${width},0)`, yMinor, -4);

g.append('rect')
    .attr('width', width)
    .attr('height', height)
    .attr('fill', 'none')
    .attr('stroke', '#000')
    .attr('stroke-width', 1.2);

// tick labels 10^n
const expText = d => {
    const e = Math.round(Math.log10(d));
    return e < 0 ? '\u2212' + (-e) : String(e);
};

xDecades.forEach(d => {
    const t = g.append('text')
        .attr('x', x(d))
        .attr('y', height + 34)
        .attr('text-anchor', 'middle')
        .style('font-size', '22px');
    t.append('tspan').text('10');
    t.append('tspan').attr('dy', -15).style('font-size', '15px').text(expText(d));
});

yDecades.forEach(d => {
    const t = g.append('text')
        .attr('x', -12)
        .attr('y', y(d) + 8)
        .attr('text-anchor', 'end')
        .style('font-size', '22.5px');
    t.append('tspan').text('10');
    t.append('tspan').attr('dy', -15).style('font-size', '15px').text(expText(d));
});

// title and axis labels
svg.append('text')
    .attr('x', margin.left + width / 2)
    .attr('y', 25)
    .attr('text-anchor', 'middle')
    .style('font-size', '23px')
    .text('Calibrated ETM/ITM Angular Spectrum');

svg.append('text')
    .attr('x', margin.left + width / 2)
    .attr('y', 600)
    .attr('text-anchor', 'middle')
    .style('font-size', '21px')
    .text('f(Hz)');

svg.append('text')
    .attr('transform', 'rotate(-90)')
    .attr('x', -(margin.top + height / 2))
    .attr('y', 32)
    .attr('text-anchor', 'middle')
    .style('font-size', '23px')
    .text('rad/\u221AHz');

// legend
const legend = svg.append('g');
legend.append('rect')
    .attr('x', 487).attr('y', 54)
    .attr('width', 247).attr('height', 60)
    .attr('fill', '#fff')
    .attr('stroke', '#000')
    .attr('stroke-width', 1);
legend.append('circle')
    .attr('cx', 518).attr('cy', 70).attr('r', 1.7)
    .attr('fill', '#0000ff');
legend.append('text')
    .attr('x', 546).attr('y', 77)
    .style('font-size', '23px')
    .text('Angular Spectrum');
legend.append('line')
    .attr('x1', 497).attr('x2', 540)
    .attr('y1', 98).attr('y2', 98)
    .attr('stroke', '#ff0000')
    .attr('stroke-width', 1.1);
legend.append('text')
    .attr('x', 546).attr('y', 106.5)
    .style('font-size', '23px')
    .text('RMS Curve');
</script>
</body>
</html>
